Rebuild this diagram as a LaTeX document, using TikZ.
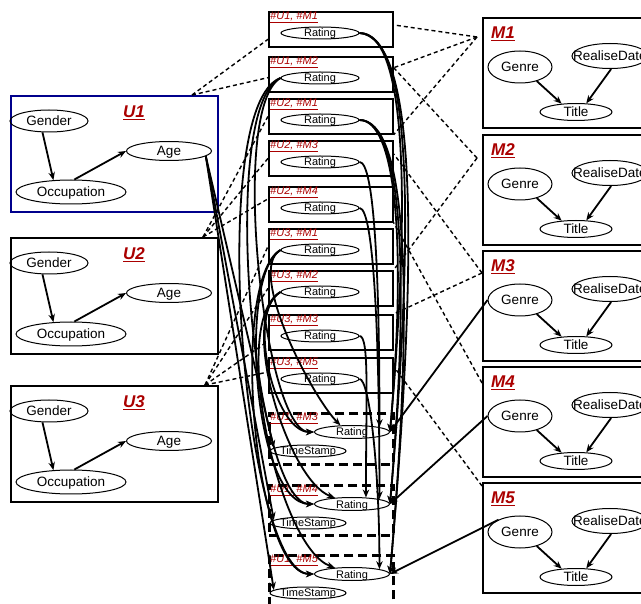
\documentclass[tikz,border=0pt]{standalone}
\usepackage{fontspec}
\setmainfont{Liberation Sans}
\usetikzlibrary{shapes.geometric,arrows.meta}

\definecolor{tagred}{RGB}{170,0,0}
\definecolor{navy}{RGB}{0,0,140}

\begin{document}
\begin{tikzpicture}[x=1pt, y=-1pt,
      attr/.style={draw, ellipse, line width=1pt, inner sep=0pt,
        text height=10pt, text depth=0.3pt,
        font=\fontsize{13.5}{15}\selectfont},
      rate/.style={attr, font=\fontsize{11}{13}\selectfont,
        text height=8pt, text depth=0pt,
        minimum width=78pt, minimum height=12pt},
      ubox/.style={draw, line width=1.8pt, inner sep=0pt,
        minimum width=207pt, minimum height=116pt},
      mbox/.style={ubox, minimum width=220pt, minimum height=110pt},
      rbox/.style={draw, line width=1.7pt, inner sep=0pt,
        minimum width=124pt, minimum height=35pt},
      dbox/.style={rbox, line width=2.8pt, dash pattern=on 9pt off 5pt},
      title/.style={inner sep=0pt, text=tagred,
        font=\fontsize{17}{19}\selectfont\bfseries\itshape},
      tag/.style={inner sep=0pt, anchor=west, text=tagred,
        font=\fontsize{11}{13}\selectfont\itshape},
      link/.style={line width=1.4pt, dash pattern=on 4pt off 3pt},
      arr/.style={->, line width=1.8pt},
      >={Stealth[length=8pt, width=6.5pt]}
      ]

  \useasboundingbox (0,0) rectangle (641,604);
  \clip (0,0) rectangle (641,604);

  % users
  \foreach \ui/\yy/\col/\px in {1/95/navy/182, 2/237/black/193, 3/385/black/195}{
    \node[ubox, draw=\col, anchor=north west] (u\ui) at (10,\yy) {};
    \node[title] (ut\ui) at ([shift={(124,18)}]u\ui.north west) {\underline{U\ui}};
    \node[attr, minimum width=78pt, minimum height=22pt] (ug\ui)
      at ([shift={(39,26)}]u\ui.north west) {Gender};
    \node[attr, minimum width=110pt, minimum height=24pt] (uo\ui)
      at ([shift={(61,97)}]u\ui.north west) {Occupation};
    \node[attr, minimum width=85pt, minimum height=19pt] (ua\ui)
      at ([shift={(159,56)}]u\ui.north west) {Age};
    \coordinate (up\ui) at ([shift={(\px,0)}]u\ui.north west);
    \draw[arr] (ug\ui.240) -- (uo\ui.146);
    \draw[arr] (uo\ui.75) -- (ua\ui.west);
  }

  % movies
  \foreach \mi/\yy/\dx/\dy in {1/17/-5/20, 2/134/-5/24, 3/250/0/23, 4/366/0/17, 5/482/0/4}{
    \node[mbox, anchor=north west] (m\mi) at (482,\yy) {};
    \node[title] (mt\mi) at ([shift={(21,17)}]m\mi.north west) {\underline{M\mi}};
    \node[attr, minimum width=64pt, minimum height=32pt] (mg\mi)
      at ([shift={(38,50)}]m\mi.north west) {Genre};
    \node[attr, minimum width=76pt, minimum height=25pt] (mr\mi)
      at ([shift={(128,39)}]m\mi.north west) {\makebox[0pt]{RealiseDate}};
    \node[attr, minimum width=72pt, minimum height=17pt] (mn\mi)
      at ([shift={(94,95)}]m\mi.north west) {Title};
    \coordinate (mp\mi) at ([shift={(\dx,\dy)}]m\mi.north west);
    \draw[arr] (mg\mi.-40) -- (mn\mi.150);
    \draw[arr] (mr\mi.-85) -- (mn\mi.40);
  }

  % observed ratings
  \foreach \ui/\mi/\yy in {1/1/11, 1/2/56, 2/1/98, 2/3/140, 2/4/186,
                           3/1/228, 3/2/270, 3/3/314, 3/5/357}{
    \node[rbox, anchor=north west] (b\ui\mi) at (268,\yy) {};
    \node[tag] (l\ui\mi) at ([shift={(2,6)}]b\ui\mi.north west) {\underline{\#U\ui, \#M\mi}};
    \node[rate] (r\ui\mi) at ([shift={(52,22)}]b\ui\mi.north west) {Rating};
  }

  % ratings to predict
  \foreach \mi/\yy/\hh in {3/412/51pt, 4/484/50pt, 5/554/60pt}{
    \node[dbox, minimum height=\hh, anchor=north west] (b1\mi) at (268,\yy) {};
    \node[tag] (l1\mi) at ([shift={(2,6)}]b1\mi.north west) {\underline{\#U1, \#M\mi}};
    \node[rate, minimum width=75pt, minimum height=13pt] (d1\mi)
      at ([shift={(84,20)}]b1\mi.north west) {Rating};
    \node[rate, minimum width=76pt] (t1\mi)
      at ([shift={(40,39)}]b1\mi.north west) {\makebox[0pt]{TimeStamp}};
  }

  % Connect the nodes
  \draw[link] (up1) edge (b11.189) edge (b12.183);
  \draw[link] (up2) edge (b21.west) edge (b23.west) edge (b24.175);
  \draw[link] (up3) edge (b31.west) edge (b32.west) edge (b33.188) edge (b35.177);
  \draw[link] (mp1) edge (b11.4) edge (b12.6) edge (b21.south east);
  \draw[link] (mp2) edge (b12.6) edge (b32.north east);
  \draw[link] (mp3) edge (b23.4) edge (b33.north east);
  \draw[link] (mp4) edge (b24.south east);
  \draw[link] (mp5) edge (b35.8);

  \draw[arr] (r11.east) to[out=0, in=85, out distance=45pt, in distance=250pt] (d13.east);
  \draw[arr] (r11.east) to[out=0, in=85, out distance=50pt, in distance=300pt] (d14.east);
  \draw[arr] (r11.east) to[out=-5, in=85, out distance=55pt, in distance=350pt] (d15.east);
  \draw[arr] (r21.east) to[out=0, in=85, out distance=35pt, in distance=200pt] (d13.east);
  \draw[arr] (r21.east) to[out=0, in=85, out distance=40pt, in distance=250pt] (d14.east);
  \draw[arr] (r21.east) to[out=0, in=85, out distance=45pt, in distance=300pt] (d15.east);

  \draw[arr] (r23.east) to[out=0, in=90, out distance=15pt, in distance=150pt] (d13.10);
  \draw[arr] (r24.east) to[out=0, in=90, out distance=15pt, in distance=150pt] (d14.10);
  \draw[arr] (r33.east) to[out=0, in=90, out distance=10pt, in distance=100pt] (d14.25);
  \draw[arr] (r35.east) to[out=0, in=90, out distance=10pt, in distance=100pt] (d15.10);

  \draw[arr] (r12.west) to[out=210, in=180, out distance=60pt, in distance=50pt] (d13.west);
  \draw[arr] (r12.west) to[out=205, in=180, out distance=70pt, in distance=60pt] (d14.west);
  \draw[arr] (r12.west) to[out=200, in=180, out distance=80pt, in distance=70pt] (d15.west);
  \draw[arr] (r31.west) to[out=210, in=135, out distance=40pt, in distance=40pt] (d13.150);
  \draw[arr] (r31.west) to[out=210, in=180, out distance=50pt, in distance=60pt] (d14.west);
  \draw[arr] (r31.west) to[out=210, in=180, out distance=60pt, in distance=60pt] (d15.west);
  \draw[arr] (r32.west) to[out=210, in=180, out distance=40pt, in distance=40pt] (d13.west);
  \draw[arr] (r32.west) to[out=210, in=160, out distance=50pt, in distance=50pt] (d14.160);
  \draw[arr] (r32.west) to[out=210, in=160, out distance=60pt, in distance=60pt] (d15.160);

  \draw[arr] (ua1.-8) -- (t13.175);
  \draw[arr] (ua1.-8) -- (t14.175);
  \draw[arr] (ua1.-8) -- (t15.175);

  \draw[arr] (mg3.west) -- (d13.east);
  \draw[arr] (mg4.west) -- (d14.east);
  \draw[arr] (mg5.150) -- (d15.east);

\end{tikzpicture}
\end{document}
